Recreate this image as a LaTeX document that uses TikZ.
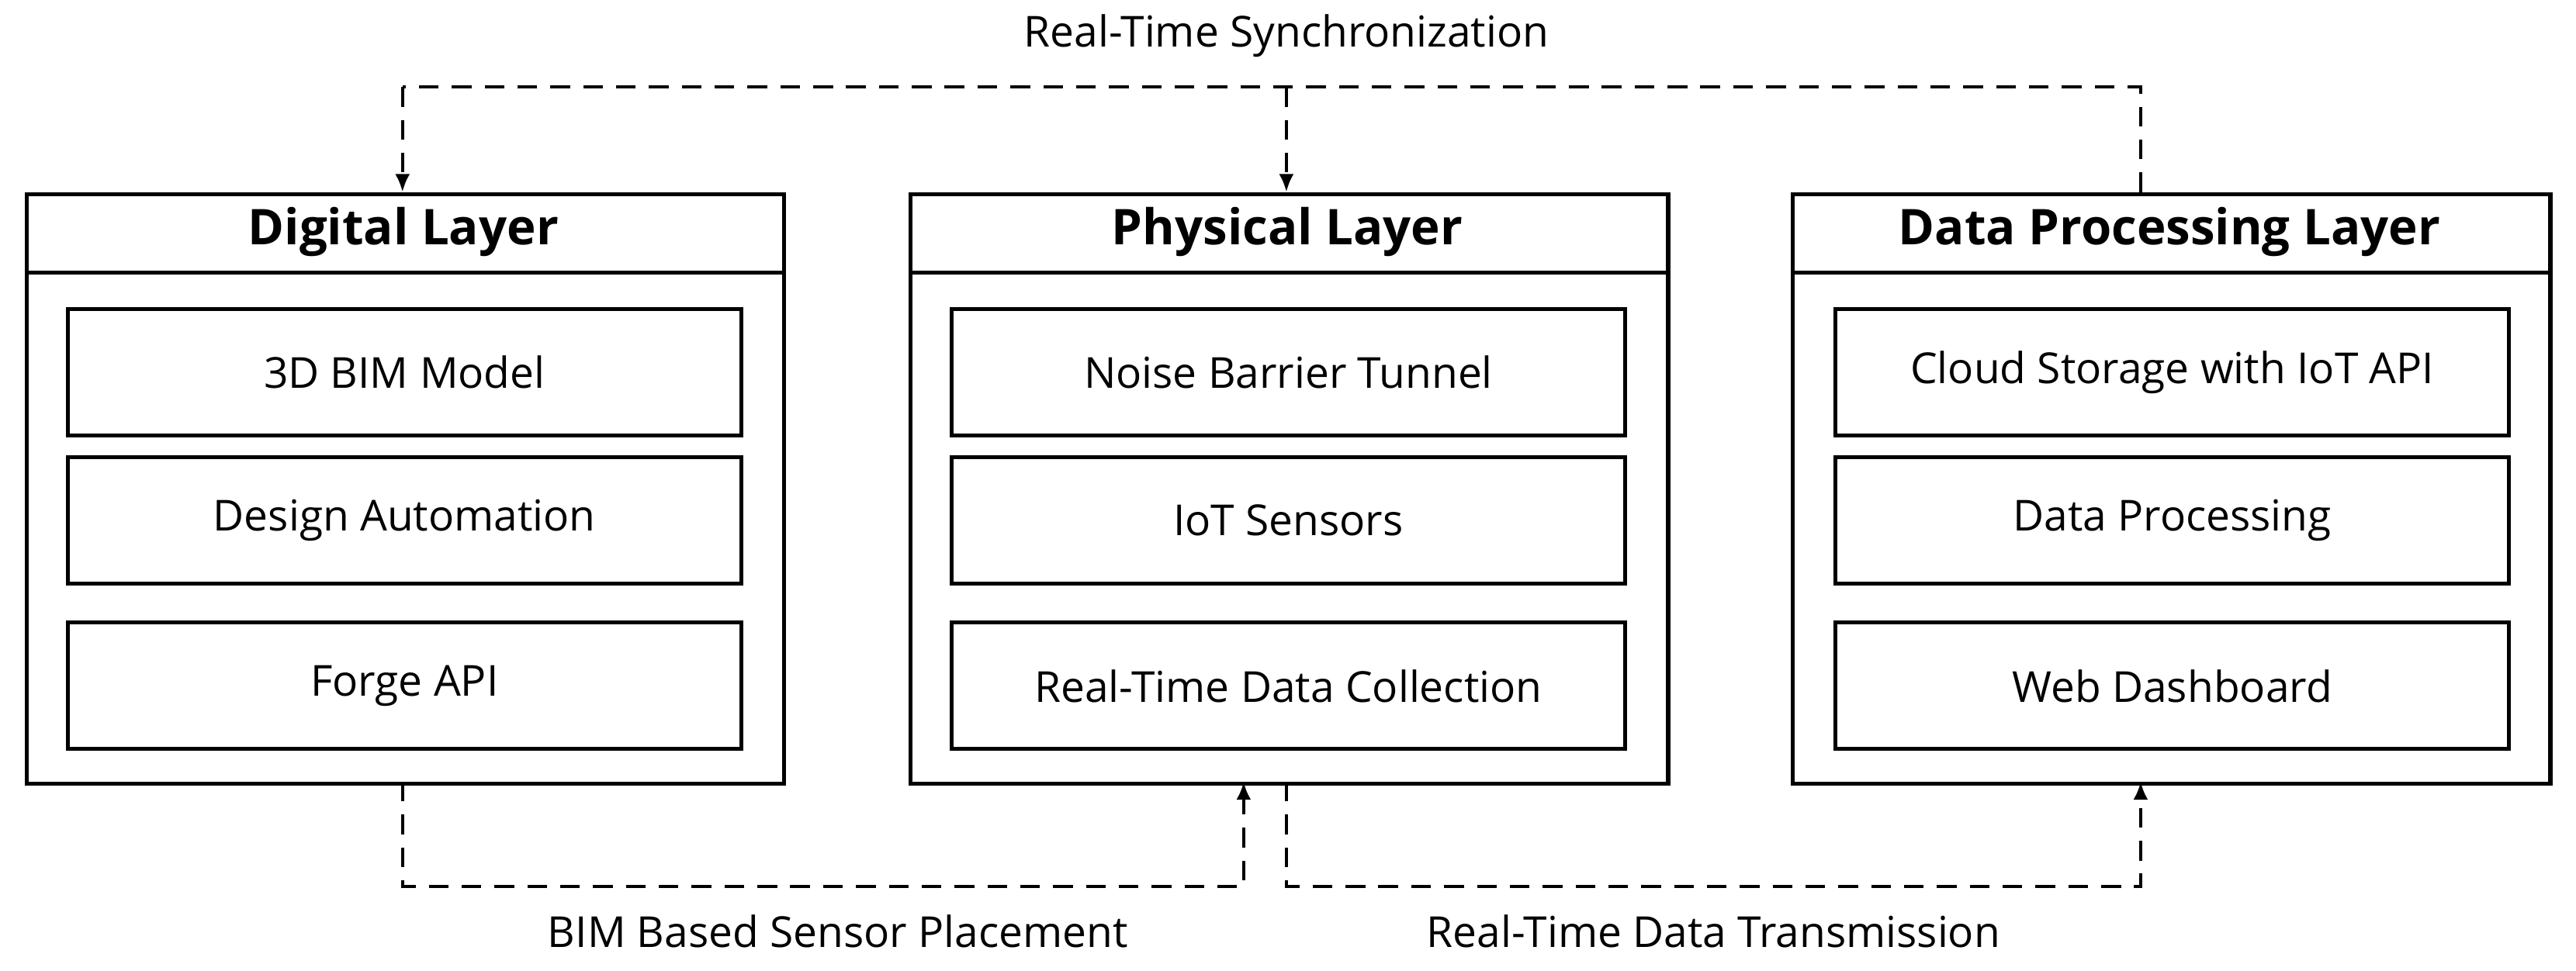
\documentclass[tikz,border=0pt]{standalone}
\usepackage{fontspec}
\setmainfont{Open Sans}
\usetikzlibrary{arrows.meta}
\begin{document}
\begin{tikzpicture}[x=1pt,y=-1pt,
  outer/.style={draw,line width=2.6pt,minimum width=461pt,minimum height=359pt,anchor=north west,inner sep=0pt},
  head/.style={font=\fontsize{30}{34}\selectfont\bfseries},
  inner/.style={draw,line width=2.4pt,minimum width=410pt,minimum height=77pt,anchor=north west,inner sep=0pt,font=\fontsize{26}{30}\selectfont},
  lbl/.style={font=\fontsize{26}{30}\selectfont},
  dsh/.style={line width=2pt,dash pattern=on 12pt off 8pt},
  arr/.style={dsh,-{Latex[length=11pt,width=9pt]}}]
\useasboundingbox (0,0) rectangle (1568,591);
\foreach \n/\x/\t in {d/15/Digital Layer,p/553/Physical Layer,c/1090/Data Processing Layer}{
  \node[outer] (\n) at (\x,117) {};
  \draw[line width=2.4pt] (\x,166) -- (\x+461,166);
  \node[head] (\n h) at (\x+230.5,141) {\t};
}
\foreach \n/\x/\a/\b/\c in {d/40/3D BIM Model/Design Automation/Forge API,
  p/578/Noise Barrier Tunnel/IoT Sensors/Real-Time Data Collection,
  c/1116/Cloud Storage with IoT API/Data Processing/Web Dashboard}{
  \node[inner] (\n1) at (\x,187) {\a};
  \node[inner] (\n2) at (\x,277) {\b};
  \node[inner] (\n3) at (\x,378) {\c};
}
\coordinate (t1) at (245,53); \coordinate (t2) at (783,53); \coordinate (t3) at (1303,53);
\draw[dsh] (1303,117) -- (t3) -- (t1);
\draw[arr] (t1) -- (245,117);
\draw[arr] (t2) -- (783,117);
\node[lbl] (ls) at (783,22) {Real-Time Synchronization};
\draw[arr] (245,476) -- (245,540) -- (757,540) -- (757,476);
\draw[arr] (783,476) -- (783,540) -- (1303,540) -- (1303,476);
\node[lbl] (lb) at (510,567) {BIM Based Sensor Placement};
\node[lbl] (lt) at (1043,567) {Real-Time Data Transmission};
\end{tikzpicture}
\end{document}
